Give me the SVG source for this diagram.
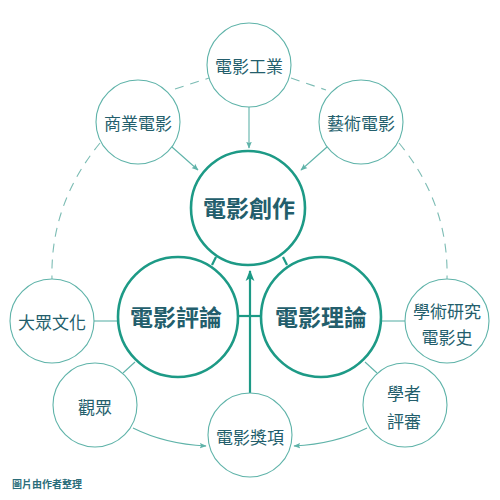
<svg xmlns="http://www.w3.org/2000/svg" width="500" height="500" viewBox="0 0 500 500">
<defs>
<style>
.bg{fill:#ffffff}
.small{fill:#ffffff;stroke:#5fb3a9;stroke-width:1.1}
.big{fill:#ffffff;stroke:#1d9a86;stroke-width:2.6}
.t{font-family:"Noto Sans CJK TC","Noto Sans CJK SC",sans-serif;fill:#235e6c;text-anchor:middle;dominant-baseline:central}
.ts{font-size:17px}
.tb{font-size:23px;font-weight:bold}
.thin{fill:none;stroke:#5fb3a9;stroke-width:1.1}
.dash{fill:none;stroke:#7cbcb4;stroke-width:1.1;stroke-dasharray:9 7}
.thick{fill:none;stroke:#1d9a86;stroke-width:2.2}
.foot{font-family:"Noto Sans CJK TC","Noto Sans CJK SC",sans-serif;font-size:10px;font-weight:bold;fill:#2b6d7a}
</style>
<marker id="ah" viewBox="0 0 10 10" refX="9" refY="5" markerWidth="7" markerHeight="7" orient="auto" markerUnits="userSpaceOnUse">
<path d="M0,1 L10,5 L0,9 L2,5 Z" fill="#5fb3a9"/>
</marker>
<marker id="ahb" viewBox="0 0 10 10" refX="9" refY="5" markerWidth="11" markerHeight="11" orient="auto" markerUnits="userSpaceOnUse">
<path d="M0,1 L10,5 L0,9 L2.5,5 Z" fill="#1d9a86"/>
</marker>
</defs>
<rect class="bg" x="0" y="0" width="500" height="500"/>
<g id="connectors">
<path class="dash" d="M175,89 L209,78"/>
<path class="dash" d="M291,78 L326,90"/>
<path class="dash" d="M100,143 Q50,204 52,279"/>
<path class="dash" d="M399,143 Q449,204 447,279"/>
<path class="thin" d="M249,107 L249,148" marker-end="url(#ah)"/>
<path class="thin" d="M172,147 L198,170" marker-end="url(#ah)"/>
<path class="thin" d="M327,147 L301,170" marker-end="url(#ah)"/>
<path class="thick" d="M216,257 L212,265"/>
<path class="thick" d="M283,257 L287,265"/>
<path class="thick" d="M238,316 L262,316"/>
<path class="thick" d="M250,393 L250,271" marker-end="url(#ahb)"/>
<path class="thin" d="M94,321 L118,321"/>
<path class="thin" d="M381,321 L405,321"/>
<path class="thin" d="M123,373 L135,362"/>
<path class="thin" d="M377,373 L365,362"/>
<path class="thin" d="M133,428 Q165,444 206,446" marker-end="url(#ah)"/>
<path class="thin" d="M367,428 Q335,444 294,446" marker-end="url(#ah)"/>
</g>
<g id="n-industry"><circle class="small" cx="249" cy="65" r="42"/><text class="t ts" x="249" y="65">電影工業</text></g>
<g id="n-commercial"><circle class="small" cx="138" cy="122" r="42"/><text class="t ts" x="138" y="122">商業電影</text></g>
<g id="n-art"><circle class="small" cx="361" cy="122" r="42"/><text class="t ts" x="361" y="122">藝術電影</text></g>
<g id="n-creation"><circle class="big" cx="248" cy="208" r="57"/><text class="t tb" x="249" y="207">電影創作</text></g>
<g id="n-criticism"><circle class="big" cx="178" cy="317" r="60"/><text class="t tb" x="176" y="316">電影評論</text></g>
<g id="n-theory"><circle class="big" cx="321" cy="317" r="60"/><text class="t tb" x="321" y="316">電影理論</text></g>
<g id="n-popular"><circle class="small" cx="52" cy="321" r="42"/><text class="t ts" x="52" y="321">大眾文化</text></g>
<g id="n-academic"><circle class="small" cx="447" cy="321" r="42"/><text class="t ts" x="447" y="310">學術研究</text><text class="t ts" x="447" y="336">電影史</text></g>
<g id="n-audience"><circle class="small" cx="95" cy="405" r="42"/><text class="t ts" x="95" y="406">觀眾</text></g>
<g id="n-scholars"><circle class="small" cx="405" cy="405" r="42"/><text class="t ts" x="404" y="392">學者</text><text class="t ts" x="404" y="420">評審</text></g>
<g id="n-awards"><circle class="small" cx="250" cy="435" r="42"/><text class="t ts" x="250" y="436">電影獎項</text></g>
<text class="foot" x="12" y="488">圖片由作者整理</text>
</svg>
